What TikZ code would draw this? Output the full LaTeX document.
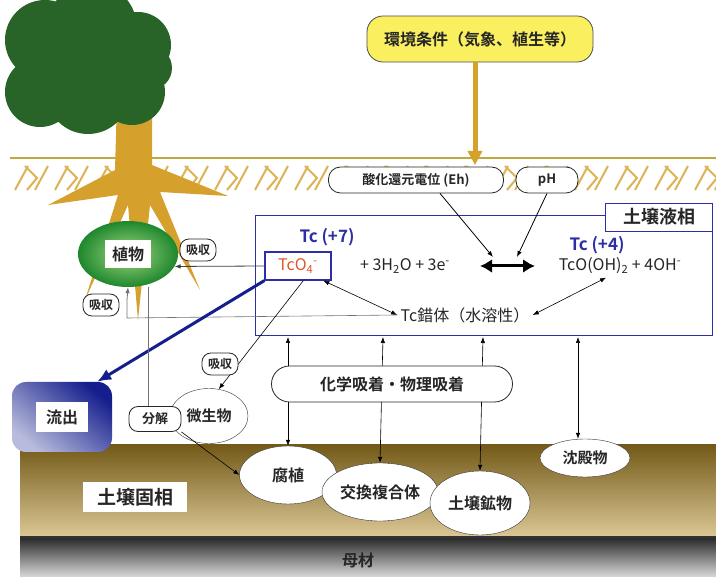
\documentclass[tikz,border=0pt]{standalone}
\usepackage{fontspec}
\setmainfont{Noto Sans CJK JP}[BoldFont={Noto Sans CJK JP Bold}]
\usetikzlibrary{shapes.geometric, arrows.meta, positioning, calc}

\definecolor{treegreen}{RGB}{40,100,40}
\definecolor{trunkgold}{RGB}{214,160,45}
\definecolor{groundline}{RGB}{190,170,60}
\definecolor{sunyellow}{RGB}{250,240,95}
\definecolor{tcblue}{RGB}{45,45,165}
\definecolor{tcred}{RGB}{225,85,40}
\definecolor{navyblue}{RGB}{20,30,140}
\definecolor{soiltop}{RGB}{115,90,25}
\definecolor{soilbot}{RGB}{220,200,150}

\newcommand{\fs}[1]{\fontsize{#1}{#1}\selectfont}

\begin{document}
\begin{tikzpicture}[x=1pt, y=-1pt,
    every node/.style={font=\fs{16}\bfseries, text=black!85},
    tag/.style={draw=black!85, thick, rounded corners=9pt, fill=white, minimum height=22pt, inner xsep=6pt, font=\fs{12}\bfseries},
    pocket/.style={draw=black!80, ellipse, fill=white, inner sep=1pt, font=\fs{16}\bfseries},
    arrow/.style={-{Latex[length=6pt]}, thick},
    twoway/.style={{Latex[length=6pt]}-{Latex[length=6pt]}, semithick},
    hatch/.style={trunkgold!80, line width=2pt}
]
    \useasboundingbox (0,0) rectangle (716,577);
    \fill[white] (0,0) rectangle (716,577);

    % Soil solid phase and parent material
    \shade[top color=soiltop, bottom color=soilbot] (20,445) rectangle (716,537);
    \shade[top color=black!85, bottom color=black!15] (20,537) rectangle (716,577);
    \draw[black!80, line width=2pt] (20,537) -- (716,537);

    % Surface with hatching
    \draw[groundline, line width=2.5pt] (10,158) -- (716,158);
    \foreach \x in {15,55,...,695} {
        \draw[hatch] (\x,190) -- (\x+13,166);
        \draw[hatch] (\x+10,166) -- (\x+22,178) -- (\x+12,190);
        \draw[hatch] (\x+20,190) -- (\x+33,166);
    }

    % Tree
    \fill[trunkgold] (117,100) -- (152,100) -- (152,165) -- (228,196) -- (160,192)
        -- (200,290) -- (150,205) -- (138,320) -- (128,205) -- (85,300)
        -- (118,195) -- (48,205) -- (115,170) -- cycle;
    \fill[treegreen] (45,40) circle (40) (92,28) circle (45) (138,45) circle (33)
        (40,92) circle (35) (88,92) circle (42) (132,92) circle (33) (150,68) circle (22);

    % Environmental conditions
    \node (env) [draw=black!70, thick, rounded corners=16pt, fill=sunyellow, minimum width=226pt, minimum height=46pt] at (480,39) {環境条件（気象、植生等）};
    \coordinate (surface) at (475,165);
    \draw[-{Triangle[length=14pt, width=14pt]}, trunkgold, line width=5pt] (env.south -| surface) -- (surface);

    \node (eh) [tag, minimum width=175pt, minimum height=26pt, rounded corners=12pt, font=\fs{13}\bfseries] at (416,180) {酸化還元電位 (Eh)};
    \node (ph) [tag, minimum width=62pt, minimum height=26pt, rounded corners=12pt, font=\fs{13}\bfseries] at (547,180) {pH};

    % Soil liquid phase
    \draw[tcblue, thick] (255,215) rectangle (712,335);
    \node (liquid) [draw=tcblue, thick, fill=white, minimum width=107pt, minimum height=28pt, font=\fs{18}\bfseries] at (659,217) {土壌液相};

    \node (tc7) [text=tcblue, font=\fs{17}\bfseries] at (327,237) {Tc (+7)};
    \node (tco4) [draw=tcblue, very thick, fill=white, minimum width=66pt, minimum height=28pt, text=tcred, font=\fs{16}] at (298,266) {TcO\textsubscript{4}\textsuperscript{-}};
    \node (react) [font=\fs{16}] at (405,266) {+ 3H\textsubscript{2}O + 3e\textsuperscript{-}};
    \node (prod) [font=\fs{16}] at (620,266) {TcO(OH)\textsubscript{2} + 4OH\textsuperscript{-}};
    \node (tc4) [text=tcblue, font=\fs{17}\bfseries] at (597,245) {Tc (+4)};
    \node (cplx) [font=\fs{16}] at (465,315) {Tc錯体（水溶性）};
    \coordinate (eqL) at (480,266);
    \coordinate (eqR) at (535,266);
    \draw[{Latex[length=12pt, width=14pt]}-{Latex[length=12pt, width=14pt]}, line width=3pt] (eqL) -- (eqR);
    \draw[arrow] (eh.south -| 440,0) -- (493,257);
    \draw[arrow] (ph.south) -- (517,257);
    \draw[twoway] (tco4.-30) -- (cplx.west);
    \draw[twoway] (prod.-140) -- (cplx.east);

    % Plant
    \node (plant) [ellipse, minimum width=100pt, minimum height=66pt, inner color={rgb,255:red,160;green,215;blue,130}, outer color={rgb,255:red,30;green,135;blue,45}] at (128,254) {};
    \node (plantlbl) [fill=white, minimum width=46pt, minimum height=28pt] at (plant) {植物};
    \draw[arrow, black!75] (tco4.west) -- (plant.-15);
    \node (upt1) [tag] at (198,250) {吸収};
    \draw[semithick, black!55] (cplx.west) -- (127,318) -- (127,300);
    \draw[arrow, black!55] (127,300) -- (plant.south);
    \node (upt2) [tag] at (101,305) {吸収};

    % Outflow and microbes
    \node (outflow) [rounded corners=14pt, minimum width=100pt, minimum height=70pt, shading=axis, top color=navyblue, bottom color=white!70!navyblue, shading angle=-40] at (62,417) {};
    \node (outlbl) [fill=white, minimum width=52pt, minimum height=30pt] at (outflow) {流出};
    \draw[-{Latex[length=14pt, width=12pt]}, navyblue, line width=3pt] (tco4.south west) -- (outflow.45);

    \node (micro) [pocket, minimum width=78pt, minimum height=55pt, font=\fs{15}\bfseries] at (209,416) {微生物};
    \draw[arrow, semithick] (tco4.-70) -- (micro.70);
    \node (upt3) [tag] at (220,364) {吸収};
    \draw[semithick, black!55] (plant.south -| 148,0) -- (148,407);
    \node (decomp) [tag, minimum width=52pt, minimum height=25pt, font=\fs{13}\bfseries] at (155,419) {分解};

    % Adsorption onto the solid phase
    \node (humus)  [pocket, minimum width=97pt, minimum height=58pt] at (288,475) {腐植};
    \node (exch)   [pocket, minimum width=106pt, minimum height=58pt] at (380,492) {交換複合体};
    \node (mineral)[pocket, minimum width=100pt, minimum height=64pt] at (480,503) {土壌鉱物};
    \node (precip) [pocket, minimum width=90pt, minimum height=38pt, font=\fs{15}\bfseries] at (585,458) {沈殿物};
    \draw[arrow, semithick] (decomp.south east) -- (humus.west);

    \draw[twoway] (288,337) -- (humus.north);
    \draw[twoway] (383,337) -- (exch.north);
    \draw[twoway] (483,337) -- (mineral.north);
    \draw[twoway] (578,337) -- (precip.north -| 578,0);
    \node (sorb) [tag, minimum width=241pt, minimum height=36pt, rounded corners=18pt, font=\fs{16}\bfseries] at (392,384) {化学吸着・物理吸着};

    \node (solid) [fill=white, minimum width=104pt, minimum height=30pt, font=\fs{19}\bfseries] at (135,497) {土壌固相};
    \node (bedrock) [font=\fs{16}\bfseries] at (358,560) {母材};
\end{tikzpicture}
\end{document}
